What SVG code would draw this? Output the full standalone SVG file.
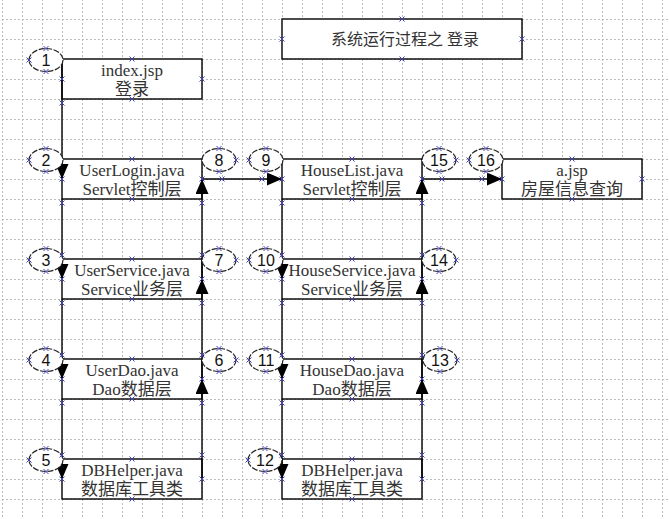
<svg xmlns="http://www.w3.org/2000/svg" xmlns:xlink="http://www.w3.org/1999/xlink" width="669" height="519" viewBox="0 0 669 519">
<style>
.box{fill:#fff;stroke:#000;stroke-width:1.4}
.t{font-family:"Liberation Serif","Noto Sans CJK SC",serif;font-size:17px;fill:#333;text-anchor:middle}
.tt{font-family:"Liberation Serif","Noto Sans CJK SC",serif;font-size:16px;fill:#333;text-anchor:middle}
.el{fill:#fff;stroke:#222;stroke-width:1.2;stroke-dasharray:6 1.5}
.n{font-family:"Liberation Sans",sans-serif;font-size:16px;fill:#111;text-anchor:middle}
.c{fill:none;stroke:#000;stroke-width:1.4}
.x{stroke:#4040b8;stroke-width:1;fill:none}
</style>
<defs>
<pattern id="grid" x="2" y="19" width="20" height="20" patternUnits="userSpaceOnUse">
<path d="M0.5,0 V20 M0,0.5 H20" stroke="#bcbcbc" stroke-width="1" stroke-dasharray="2,2" fill="none"/>
</pattern>
<marker id="ah" markerUnits="userSpaceOnUse" markerWidth="16" markerHeight="14" refX="15" refY="6.5" orient="auto">
<path d="M0,0 L15,6.5 L0,13 z" fill="#000"/>
</marker>
<path id="xm" class="x" d="M-2.5,-2.5 L2.5,2.5 M-2.5,2.5 L2.5,-2.5"/>
</defs>
<rect width="669" height="519" fill="#fff"/>
<rect width="669" height="519" fill="url(#grid)"/>

<g id="title"><rect class="box" x="282" y="19" width="240" height="40"/><text class="tt" x="405" y="45">系统运行过程之 登录</text></g>
<g id="index"><rect class="box" x="62" y="59" width="140" height="40"/><text class="t" x="132" y="76">index.jsp</text><text class="t" x="132" y="95">登录</text></g>
<g id="userlogin"><rect class="box" x="62" y="159" width="140" height="40"/><text class="t" x="132" y="176">UserLogin.java</text><text class="t" x="132" y="195">Servlet控制层</text></g>
<g id="userservice"><rect class="box" x="62" y="259" width="140" height="40"/><text class="t" x="132" y="276">UserService.java</text><text class="t" x="132" y="295">Service业务层</text></g>
<g id="userdao"><rect class="box" x="62" y="359" width="140" height="40"/><text class="t" x="132" y="376">UserDao.java</text><text class="t" x="132" y="395">Dao数据层</text></g>
<g id="dbhelper1"><rect class="box" x="62" y="459" width="140" height="40"/><text class="t" x="132" y="476">DBHelper.java</text><text class="t" x="132" y="495">数据库工具类</text></g>
<g id="houselist"><rect class="box" x="282" y="159" width="140" height="40"/><text class="t" x="352" y="176">HouseList.java</text><text class="t" x="352" y="195">Servlet控制层</text></g>
<g id="houseservice"><rect class="box" x="282" y="259" width="140" height="40"/><text class="t" x="352" y="276">HouseService.java</text><text class="t" x="352" y="295">Service业务层</text></g>
<g id="housedao"><rect class="box" x="282" y="359" width="140" height="40"/><text class="t" x="352" y="376">HouseDao.java</text><text class="t" x="352" y="395">Dao数据层</text></g>
<g id="dbhelper2"><rect class="box" x="282" y="459" width="140" height="40"/><text class="t" x="352" y="476">DBHelper.java</text><text class="t" x="352" y="495">数据库工具类</text></g>
<g id="ajsp"><rect class="box" x="502" y="159" width="140" height="40"/><text class="t" x="572" y="176">a.jsp</text><text class="t" x="572" y="195">房屋信息查询</text></g>

<g id="connectors">
<path class="c" d="M62,59 V99"/>
<path class="c" d="M62,99 V179" marker-end="url(#ah)"/>
<path class="c" d="M62,199 V279" marker-end="url(#ah)"/>
<path class="c" d="M62,299 V379" marker-end="url(#ah)"/>
<path class="c" d="M62,399 V479" marker-end="url(#ah)"/>
<path class="c" d="M202,479 V379" marker-end="url(#ah)"/>
<path class="c" d="M202,379 V279" marker-end="url(#ah)"/>
<path class="c" d="M202,279 V179" marker-end="url(#ah)"/>
<path class="c" d="M202,179 H282" marker-end="url(#ah)"/>
<path class="c" d="M282,199 V279" marker-end="url(#ah)"/>
<path class="c" d="M282,299 V379" marker-end="url(#ah)"/>
<path class="c" d="M282,399 V479" marker-end="url(#ah)"/>
<path class="c" d="M422,479 V379" marker-end="url(#ah)"/>
<path class="c" d="M422,379 V279" marker-end="url(#ah)"/>
<path class="c" d="M422,279 V179" marker-end="url(#ah)"/>
<path class="c" d="M422,179 H502" marker-end="url(#ah)"/>
</g>

<g id="e1"><ellipse class="el" cx="46" cy="60" rx="17" ry="11.5"/><text class="n" x="46" y="66">1</text></g>
<g id="e2"><ellipse class="el" cx="46" cy="160" rx="17" ry="11.5"/><text class="n" x="46" y="166">2</text></g>
<g id="e3"><ellipse class="el" cx="46" cy="260" rx="17" ry="11.5"/><text class="n" x="46" y="266">3</text></g>
<g id="e4"><ellipse class="el" cx="46" cy="360" rx="17" ry="11.5"/><text class="n" x="46" y="366">4</text></g>
<g id="e5"><ellipse class="el" cx="46" cy="460" rx="17" ry="11.5"/><text class="n" x="46" y="466">5</text></g>
<g id="e6"><ellipse class="el" cx="219" cy="360" rx="17" ry="11.5"/><text class="n" x="219" y="366">6</text></g>
<g id="e7"><ellipse class="el" cx="219" cy="260" rx="17" ry="11.5"/><text class="n" x="219" y="266">7</text></g>
<g id="e8"><ellipse class="el" cx="219" cy="160" rx="17" ry="11.5"/><text class="n" x="219" y="166">8</text></g>
<g id="e9"><ellipse class="el" cx="266" cy="160" rx="17" ry="11.5"/><text class="n" x="266" y="166">9</text></g>
<g id="e10"><ellipse class="el" cx="266" cy="260" rx="17" ry="11.5"/><text class="n" x="266" y="266">10</text></g>
<g id="e11"><ellipse class="el" cx="266" cy="360" rx="17" ry="11.5"/><text class="n" x="266" y="366">11</text></g>
<g id="e12"><ellipse class="el" cx="265" cy="460" rx="17" ry="11.5"/><text class="n" x="265" y="466">12</text></g>
<g id="e13"><ellipse class="el" cx="440" cy="360" rx="17" ry="11.5"/><text class="n" x="440" y="366">13</text></g>
<g id="e14"><ellipse class="el" cx="439" cy="260" rx="17" ry="11.5"/><text class="n" x="439" y="266">14</text></g>
<g id="e15"><ellipse class="el" cx="439" cy="160" rx="17" ry="11.5"/><text class="n" x="439" y="166">15</text></g>
<g id="e16"><ellipse class="el" cx="486" cy="160" rx="17" ry="11.5"/><text class="n" x="486" y="166">16</text></g>

<g id="handles">
<use href="#xm" x="402" y="19"/><use href="#xm" x="402" y="59"/><use href="#xm" x="282" y="39"/><use href="#xm" x="522" y="39"/>
<use href="#xm" x="132" y="59"/><use href="#xm" x="132" y="99"/><use href="#xm" x="62" y="79"/><use href="#xm" x="202" y="79"/>
<use href="#xm" x="132" y="159"/><use href="#xm" x="132" y="199"/><use href="#xm" x="62" y="179"/><use href="#xm" x="202" y="179"/>
<use href="#xm" x="132" y="259"/><use href="#xm" x="132" y="299"/><use href="#xm" x="62" y="279"/><use href="#xm" x="202" y="279"/>
<use href="#xm" x="132" y="359"/><use href="#xm" x="132" y="399"/><use href="#xm" x="62" y="379"/><use href="#xm" x="202" y="379"/>
<use href="#xm" x="132" y="459"/><use href="#xm" x="132" y="499"/><use href="#xm" x="62" y="479"/><use href="#xm" x="202" y="479"/>
<use href="#xm" x="352" y="159"/><use href="#xm" x="352" y="199"/><use href="#xm" x="282" y="179"/><use href="#xm" x="422" y="179"/>
<use href="#xm" x="352" y="259"/><use href="#xm" x="352" y="299"/><use href="#xm" x="282" y="279"/><use href="#xm" x="422" y="279"/>
<use href="#xm" x="352" y="359"/><use href="#xm" x="352" y="399"/><use href="#xm" x="282" y="379"/><use href="#xm" x="422" y="379"/>
<use href="#xm" x="352" y="459"/><use href="#xm" x="352" y="499"/><use href="#xm" x="282" y="479"/><use href="#xm" x="422" y="479"/>
<use href="#xm" x="572" y="159"/><use href="#xm" x="572" y="199"/><use href="#xm" x="502" y="179"/><use href="#xm" x="642" y="179"/>
<use href="#xm" x="62" y="103"/><use href="#xm" x="62" y="203"/><use href="#xm" x="62" y="303"/><use href="#xm" x="62" y="403"/>
<use href="#xm" x="62" y="255"/><use href="#xm" x="62" y="355"/><use href="#xm" x="62" y="455"/>
<use href="#xm" x="202" y="203"/><use href="#xm" x="202" y="303"/><use href="#xm" x="202" y="403"/>
<use href="#xm" x="202" y="255"/><use href="#xm" x="202" y="355"/><use href="#xm" x="202" y="455"/>
<use href="#xm" x="282" y="203"/><use href="#xm" x="282" y="303"/><use href="#xm" x="282" y="403"/>
<use href="#xm" x="282" y="255"/><use href="#xm" x="282" y="355"/><use href="#xm" x="282" y="455"/>
<use href="#xm" x="422" y="203"/><use href="#xm" x="422" y="303"/><use href="#xm" x="422" y="403"/>
<use href="#xm" x="422" y="255"/><use href="#xm" x="422" y="355"/><use href="#xm" x="422" y="455"/>
<use href="#xm" x="222" y="179"/><use href="#xm" x="262" y="179"/><use href="#xm" x="442" y="179"/><use href="#xm" x="482" y="179"/>
<use href="#xm" x="46" y="48.5"/><use href="#xm" x="46" y="71.5"/><use href="#xm" x="29" y="60"/>
<use href="#xm" x="46" y="148.5"/><use href="#xm" x="46" y="171.5"/><use href="#xm" x="29" y="160"/>
<use href="#xm" x="46" y="248.5"/><use href="#xm" x="46" y="271.5"/><use href="#xm" x="29" y="260"/>
<use href="#xm" x="46" y="348.5"/><use href="#xm" x="46" y="371.5"/><use href="#xm" x="29" y="360"/>
<use href="#xm" x="46" y="448.5"/><use href="#xm" x="46" y="471.5"/><use href="#xm" x="29" y="460"/>
<use href="#xm" x="219" y="148.5"/><use href="#xm" x="219" y="171.5"/><use href="#xm" x="236" y="160"/>
<use href="#xm" x="219" y="248.5"/><use href="#xm" x="219" y="271.5"/><use href="#xm" x="236" y="260"/>
<use href="#xm" x="219" y="348.5"/><use href="#xm" x="219" y="371.5"/><use href="#xm" x="236" y="360"/>
<use href="#xm" x="266" y="148.5"/><use href="#xm" x="266" y="171.5"/><use href="#xm" x="249" y="160"/>
<use href="#xm" x="266" y="248.5"/><use href="#xm" x="266" y="271.5"/><use href="#xm" x="249" y="260"/>
<use href="#xm" x="266" y="348.5"/><use href="#xm" x="266" y="371.5"/><use href="#xm" x="249" y="360"/>
<use href="#xm" x="265" y="448.5"/><use href="#xm" x="265" y="471.5"/><use href="#xm" x="248" y="460"/>
<use href="#xm" x="439" y="148.5"/><use href="#xm" x="439" y="171.5"/><use href="#xm" x="456" y="160"/>
<use href="#xm" x="439" y="248.5"/><use href="#xm" x="439" y="271.5"/><use href="#xm" x="456" y="260"/>
<use href="#xm" x="440" y="348.5"/><use href="#xm" x="440" y="371.5"/><use href="#xm" x="457" y="360"/>
<use href="#xm" x="486" y="148.5"/><use href="#xm" x="486" y="171.5"/><use href="#xm" x="469" y="160"/>
</g>
</svg>
